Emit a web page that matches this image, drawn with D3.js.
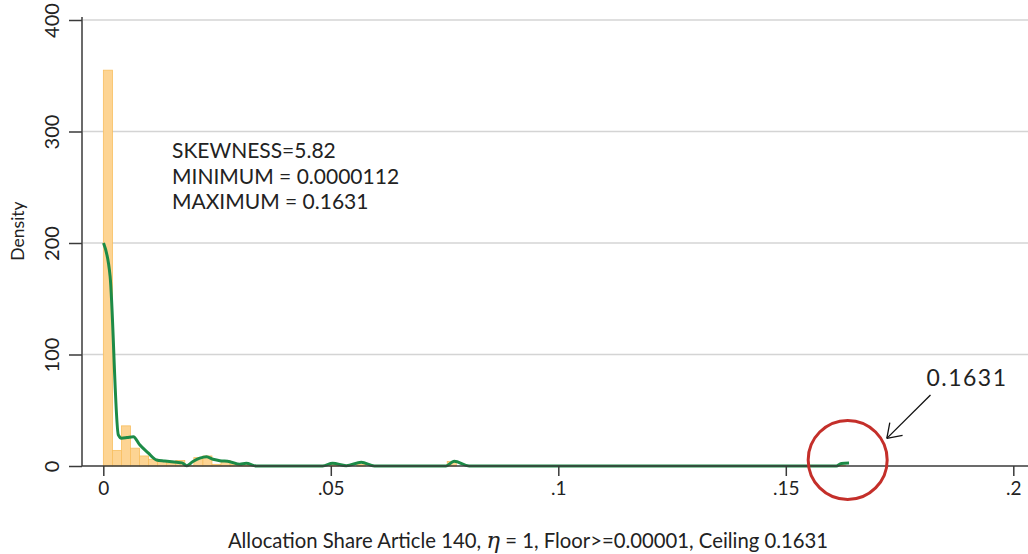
<!DOCTYPE html>
<html>
<head>
<meta charset="utf-8">
<script src="https://cdn.jsdelivr.net/npm/d3@7"></script>
<style>
  body { margin: 0; background: #fff; }
  svg { display: block; }
  text { font-family: Lato, "Open Sans", sans-serif; fill: #222; }
</style>
</head>
<body>
<svg id="chart" width="1028" height="554" viewBox="0 0 1028 554"></svg>
<script>
// Histogram (82 bins starting at the minimum), density per bin
const minValue = 0.0000112;
const maxValue = 0.1631;
const binCount = 82;
const histDensity = [
    355, 14, 36, 16, 9, 6, 4, 2.5, 5, 0.3,
    7.5, 9, 1.5, 5, 1.5, 1, 0.5, 0, 0, 0,
    0, 0, 0, 0, 0, 1.2, 0, 0, 1.2, 0,
    0, 0, 0, 0, 0, 0, 0, 0, 4, 0,
    0, 0, 0, 0, 0, 0, 0, 0, 0, 0,
    0, 0, 0, 0, 0, 0, 0, 0, 0, 0,
    0, 0, 0, 0, 0, 0, 0, 0, 0, 0,
    0, 0, 0, 0, 0, 0, 0, 0, 0, 0,
    0, 0.5
];

// Kernel density estimate
const kdeX = [0.00005, 0.0015, 0.0033, 0.0040, 0.0052, 0.0066, 0.0080, 0.0098, 0.0117, 0.0135,
    0.0161, 0.0173, 0.0183, 0.0197, 0.0212, 0.0227, 0.0241, 0.0256, 0.0278, 0.0300,
    0.0314, 0.0336, 0.0482, 0.0504, 0.0534, 0.0567, 0.0596, 0.0753, 0.0771, 0.0804,
    0.1611, 0.1622, 0.1639];
const kdeY = [200, 170, 28, 25, 25.5, 26.3, 19, 12, 5.4, 4.5,
    3.3, 2.8, 0.3, 4, 7, 8.3, 6, 4.8, 3.9, 1.5,
    2.4, 0, 0, 2.4, 0.3, 3.3, 0, 0, 4.2, 0,
    0, 2.3, 2.7];

const xTicks = [0, 0.05, 0.1, 0.15, 0.2];
const xTickLabels = ["0", ".05", ".1", ".15", ".2"];
const yTicks = [0, 100, 200, 300, 400];

const statLines = ["SKEWNESS=5.82", "MINIMUM = 0.0000112", "MAXIMUM = 0.1631"];
const maxLabel = "0.1631";

const svg = d3.select("#chart");
const W = 1028;

const x = d3.scaleLinear().domain([0, 0.2]).range([103.3, 1013.3]);
const y = d3.scaleLinear().domain([0, 400]).range([466, 20]);
const axisLeftX = 82;

// Gridlines
svg.append("g")
    .selectAll("line")
    .data(yTicks.filter(d => d > 0))
    .enter()
    .append("line")
    .attr("x1", axisLeftX + 1)
    .attr("x2", W)
    .attr("y1", d => y(d))
    .attr("y2", d => y(d))
    .attr("stroke", "#d4d4d4")
    .attr("stroke-width", 1.5);

// Histogram bars
const binWidth = (maxValue - minValue) / binCount;
const bins = histDensity.map((d, i) => ({ x0: minValue + i * binWidth, x1: minValue + (i + 1) * binWidth, density: d }));
svg.append("g")
    .selectAll("rect")
    .data(bins.filter(d => d.density > 0))
    .enter()
    .append("rect")
    .attr("x", d => x(d.x0))
    .attr("width", d => x(d.x1) - x(d.x0))
    .attr("y", d => y(d.density))
    .attr("height", d => y(0) - y(d.density))
    .attr("fill", "#fdd493")
    .attr("stroke", "#f8bf60")
    .attr("stroke-width", 0.8);

// Density line
const kde = kdeX.map((v, i) => [v, kdeY[i]]);
svg.append("path")
    .datum(kde)
    .attr("d", d3.line().x(d => x(d[0])).y(d => y(d[1])).curve(d3.curveMonotoneX))
    .attr("fill", "none")
    .attr("stroke", "#1d8b47")
    .attr("stroke-width", 3)
    .attr("stroke-linejoin", "round");

// Axes
const xAxis = svg.append("g")
    .attr("transform", "translate(0," + y(0) + ")")
    .call(d3.axisBottom(x).tickValues(xTicks).tickFormat((d, i) => xTickLabels[i]).tickSize(10).tickPadding(6));
xAxis.select(".domain").remove();
xAxis.selectAll("line").attr("stroke", "#3a3a3a").attr("stroke-width", 1.5);
xAxis.selectAll("text").attr("font-size", 19).attr("fill", "#222").attr("font-family", "Lato, sans-serif");

svg.append("line")
    .attr("x1", axisLeftX).attr("x2", W)
    .attr("y1", y(0)).attr("y2", y(0))
    .attr("stroke", "#3a3a3a").attr("stroke-width", 1.5);

const yAxis = svg.append("g")
    .attr("transform", "translate(" + axisLeftX + ",0)")
    .call(d3.axisLeft(y).tickValues(yTicks).tickSize(13).tickPadding(10));
yAxis.select(".domain").remove();
yAxis.selectAll("line").attr("stroke", "#3a3a3a").attr("stroke-width", 1.5);
yAxis.selectAll("text")
    .attr("font-size", 20)
    .attr("fill", "#222")
    .attr("font-family", "Lato, sans-serif")
    .attr("text-anchor", "middle")
    .attr("x", null).attr("dy", null)
    .attr("transform", "translate(-23,0) rotate(-90)");

svg.append("line")
    .attr("x1", axisLeftX).attr("x2", axisLeftX)
    .attr("y1", y(0)).attr("y2", y(400) - 3)
    .attr("stroke", "#3a3a3a").attr("stroke-width", 1.5);

// Axis titles
svg.append("text")
    .attr("transform", "translate(24,231) rotate(-90)")
    .attr("text-anchor", "middle")
    .attr("font-size", 17.5)
    .text("Density");

const xTitle = svg.append("text")
    .attr("x", 528)
    .attr("y", 548)
    .attr("text-anchor", "middle")
    .attr("font-size", 20.3);
xTitle.append("tspan").text("Allocation Share Article 140,  ");
xTitle.append("tspan").attr("font-family", "'DejaVu Serif', serif").attr("font-style", "italic").attr("font-size", 23).text("η");
xTitle.append("tspan").text(" = 1, Floor>=0.00001, Ceiling 0.1631");

// Stats annotation
svg.append("g")
    .selectAll("text")
    .data(statLines)
    .enter()
    .append("text")
    .attr("x", x(0.0151))
    .attr("y", (d, i) => y(276) + i * 25.5)
    .attr("font-size", 21)
    .text(d => d);

// Circle around the maximum
svg.append("circle")
    .attr("cx", x(0.1636))
    .attr("cy", y(5.4))
    .attr("r", 39.5)
    .attr("fill", "none")
    .attr("stroke", "#c42f2a")
    .attr("stroke-width", 3);

// Arrow and label
const tail = [x(0.1818), y(63.7)];
const tip = [x(0.1722), y(24.8)];
svg.append("line")
    .attr("x1", tail[0]).attr("y1", tail[1])
    .attr("x2", tip[0]).attr("y2", tip[1])
    .attr("stroke", "#111").attr("stroke-width", 1.3);
const ang = Math.atan2(tail[1] - tip[1], tail[0] - tip[0]);
[-0.6, 0.6].forEach(a => {
    svg.append("line")
        .attr("x1", tip[0]).attr("y1", tip[1])
        .attr("x2", tip[0] + 16 * Math.cos(ang + a))
        .attr("y2", tip[1] + 16 * Math.sin(ang + a))
        .attr("stroke", "#111").attr("stroke-width", 1.3);
});

svg.append("text")
    .attr("x", x(0.1809))
    .attr("y", 386)
    .attr("font-size", 23)
    .attr("letter-spacing", 1.5)
    .text(maxLabel);
</script>
</body>
</html>
